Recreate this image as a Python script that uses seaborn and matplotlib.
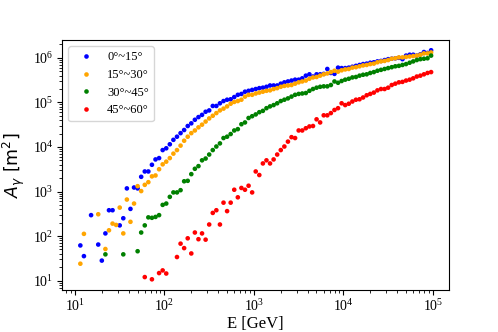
import numpy as np
import pandas as pd
import matplotlib
matplotlib.use('Agg')
import matplotlib.pyplot as plt
import seaborn as sns

# energy bins, log10(E / GeV)
log_energy = [
    1.06, 1.10, 1.14, 1.18, 1.22, 1.26, 1.30, 1.34, 1.38, 1.42,
    1.46, 1.50, 1.54, 1.58, 1.62, 1.66, 1.70, 1.74, 1.78, 1.82,
    1.86, 1.90, 1.94, 1.98, 2.02, 2.06, 2.10, 2.14, 2.18, 2.22,
    2.26, 2.30, 2.34, 2.38, 2.42, 2.46, 2.50, 2.54, 2.58, 2.62,
    2.66, 2.70, 2.74, 2.78, 2.82, 2.86, 2.90, 2.94, 2.98, 3.02,
    3.06, 3.10, 3.14, 3.18, 3.22, 3.26, 3.30, 3.34, 3.38, 3.42,
    3.46, 3.50, 3.54, 3.58, 3.62, 3.66, 3.70, 3.74, 3.78, 3.82,
    3.86, 3.90, 3.94, 3.98, 4.02, 4.06, 4.10, 4.14, 4.18, 4.22,
    4.26, 4.30, 4.34, 4.38, 4.42, 4.46, 4.50, 4.54, 4.58, 4.62,
    4.66, 4.70, 4.74, 4.78, 4.82, 4.86, 4.90, 4.94, 4.98,
]

# effective area, log10(A / m^2); None = no point in that bin
area_0_15 = [
    1.79, 1.55, None, 2.47, None, 1.81, 1.45, 2.06, 2.58, 2.58,
    None, 2.24, 2.40, 3.07, 2.61, 3.09, 3.07, 3.33, 3.45, 3.45,
    3.60, 3.72, 3.75, 3.93, 3.97, 4.06, 4.16, 4.23, 4.31, 4.38,
    4.47, 4.53, 4.61, 4.67, 4.72, 4.79, 4.82, 4.92, 4.92, 4.98,
    5.03, 5.06, 5.07, 5.12, 5.17, 5.19, 5.24, 5.26, 5.28, 5.30,
    5.32, 5.33, 5.35, 5.38, 5.38, 5.38, 5.42, 5.45, 5.47, 5.49,
    5.51, 5.51, 5.54, 5.60, 5.63, 5.58, 5.63, 5.63, 5.64, 5.75,
    5.66, 5.64, 5.78, 5.77, 5.77, 5.78, 5.80, 5.82, 5.84, 5.86,
    5.87, 5.89, 5.90, 5.92, 5.93, 5.95, 5.97, 5.98, 5.99, 6.00,
    5.97, 6.05, 6.07, 6.07, 6.05, 6.08, 6.13, 6.11, 6.17,
]
area_15_30 = [
    1.38, 2.05, None, None, None, 2.49, None, 1.71, 2.13, 2.28,
    2.25, 2.64, 2.06, 2.82, 2.32, 2.73, 3.12, 3.01, 3.15, 3.21,
    3.34, 3.36, 3.50, 3.61, 3.67, 3.75, 3.85, 3.93, 4.03, 4.14,
    4.23, 4.31, 4.37, 4.44, 4.50, 4.57, 4.64, 4.70, 4.76, 4.82,
    4.86, 4.91, 4.97, 5.01, 5.03, 5.06, 5.13, 5.17, 5.17, 5.20,
    5.22, 5.24, 5.26, 5.27, 5.30, 5.32, 5.35, 5.37, 5.38, 5.39,
    5.42, 5.45, 5.47, 5.49, 5.53, 5.56, 5.57, 5.60, 5.63, 5.65,
    5.68, 5.71, 5.69, 5.72, 5.74, 5.75, 5.78, 5.79, 5.81, 5.83,
    5.84, 5.86, 5.87, 5.90, 5.92, 5.93, 5.95, 5.98, 5.99, 6.01,
    6.01, 6.02, 6.03, 6.04, 6.05, 6.07, 6.10, 6.10, 6.12,
]
area_30_45 = [
    None, None, None, None, None, None, None, 1.59, None, None,
    None, None, 1.59, None, None, None, 1.66, 2.08, 2.24, 2.42,
    2.41, 2.43, 2.47, 2.70, 2.73, 2.88, 2.98, 2.98, 3.03, 3.23,
    3.24, 3.39, 3.51, 3.57, 3.70, 3.74, 3.83, 3.93, 4.01, 4.08,
    4.20, 4.23, 4.29, 4.37, 4.40, 4.51, 4.55, 4.65, 4.69, 4.73,
    4.78, 4.81, 4.87, 4.91, 4.94, 4.98, 5.03, 5.06, 5.09, 5.13,
    5.17, 5.19, 5.20, 5.21, 5.26, 5.30, 5.33, 5.35, 5.36, 5.36,
    5.39, 5.47, 5.44, 5.48, 5.51, 5.53, 5.56, 5.57, 5.60, 5.62,
    5.63, 5.66, 5.68, 5.71, 5.73, 5.75, 5.77, 5.79, 5.81, 5.82,
    5.84, 5.86, 5.89, 5.92, 5.95, 5.97, 5.98, 5.99, 6.05,
]
area_45_60 = [
    None, None, None, None, None, None, None, None, None, None,
    None, None, None, None, None, None, None, None, 1.08, None,
    1.03, None, 1.17, 1.23, 1.16, None, None, 1.53, 1.83, 1.73,
    1.95, 1.61, 2.08, 1.93, 2.06, 1.92, 2.26, 2.52, 2.58, 2.26,
    2.75, 2.56, 2.75, 3.04, 2.87, 3.08, 3.04, 3.13, 2.98, 3.45,
    3.37, 3.63, 3.70, 3.63, 3.72, 3.83, 3.93, 4.01, 4.12, 4.22,
    4.20, 4.37, 4.37, 4.42, 4.46, 4.47, 4.62, 4.55, 4.71, 4.71,
    4.76, 4.83, 4.87, 4.98, 4.94, 4.97, 5.02, 5.06, 5.07, 5.11,
    5.16, 5.19, 5.22, 5.27, 5.30, 5.30, 5.33, 5.39, 5.42, 5.45,
    5.46, 5.49, 5.51, 5.54, 5.58, 5.60, 5.63, 5.66, 5.68,
]

labels = ['0°~15°', '15°~30°', '30°~45°', '45°~60°']
colors = ['blue', 'orange', 'green', 'red']
series = [area_0_15, area_15_30, area_30_45, area_45_60]

frames = []
for label, vals in zip(labels, series):
    d = pd.DataFrame({'logE': log_energy, 'logA': vals}).dropna()
    d['E'] = 10 ** d['logE']
    d['A'] = 10 ** d['logA'].astype(float)
    d['zenith'] = label
    frames.append(d)
df = pd.concat(frames, ignore_index=True)

plt.rcParams['font.family'] = ['Liberation Serif', 'DejaVu Serif']
plt.rcParams['mathtext.fontset'] = 'dejavusans'

fig, ax = plt.subplots(figsize=(4.98, 3.32), dpi=100)
fig.subplots_adjust(left=0.1245, right=0.9016, top=0.8795, bottom=0.1265)

sns.scatterplot(data=df, x='E', y='A', hue='zenith', hue_order=labels,
                palette=dict(zip(labels, colors)), s=11, linewidth=0, ax=ax)

ax.set_xscale('log')
ax.set_yscale('log')
ax.set_xlim(10 ** 0.855, 10 ** 5.18)
ax.set_ylim(10 ** 0.79, 10 ** 6.40)
ax.tick_params(labelsize=10, pad=2.5)

ax.set_xlabel('E [GeV]', fontsize=12, labelpad=1)
ax.set_ylabel(r'$A_\gamma$ [m$^2$]', fontsize=12.5, fontfamily='DejaVu Sans')

ax.legend(loc='upper left', fontsize=9, handletextpad=0.7, labelspacing=0.45)

fig.savefig('out.png', dpi=100)
